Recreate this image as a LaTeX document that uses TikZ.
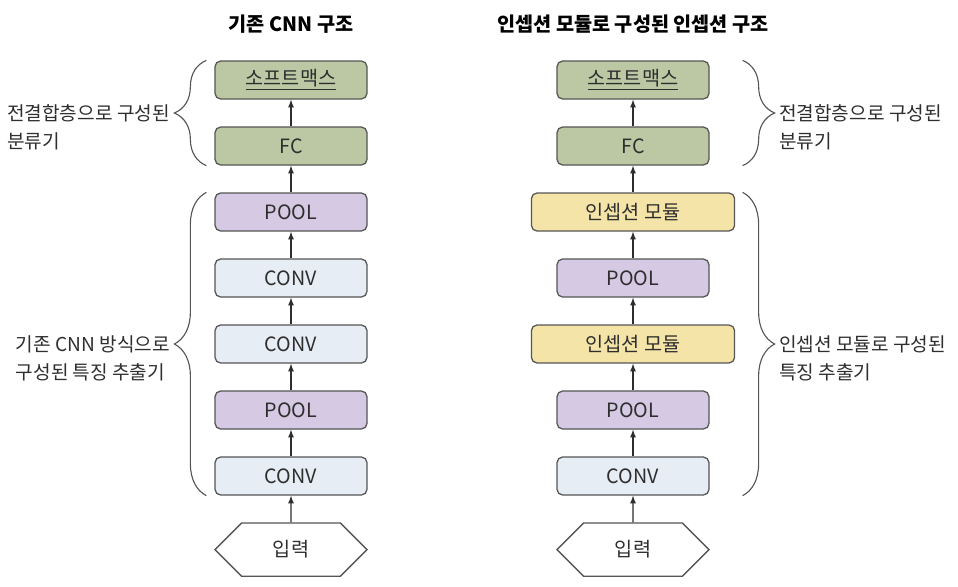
\documentclass[tikz,border=0pt]{standalone}
\usepackage{fontspec}
\setmainfont{Noto Sans CJK KR}
\usepackage{tikz}
\usetikzlibrary{shapes.symbols, arrows, decorations.pathreplacing}
\definecolor{fcgreen}{HTML}{BCC8A4}
\definecolor{poolpurple}{HTML}{D5C9E3}
\definecolor{convblue}{HTML}{E6EDF4}
\definecolor{incepyellow}{HTML}{F5E4A8}
\definecolor{boxline}{HTML}{555555}
\definecolor{textgray}{HTML}{2E2E2E}
\tikzstyle{layer} = [rectangle, rounded corners=4pt, minimum width=3.8cm, minimum height=0.95cm, text centered, draw=boxline, line width=0.9pt, text=textgray, font=\fontsize{14}{16}\selectfont]
\tikzstyle{fc} = [layer, fill=fcgreen]
\tikzstyle{pool} = [layer, fill=poolpurple]
\tikzstyle{conv} = [layer, fill=convblue]
\tikzstyle{incep} = [layer, minimum width=5.08cm, fill=incepyellow]
\tikzstyle{inputhex} = [signal, signal to=east and west, signal pointer angle=90, minimum width=3.8cm, minimum height=1.33cm, draw=boxline, fill=white, line width=0.9pt, text=textgray, font=\fontsize{14}{16}\selectfont]
\tikzstyle{title} = [text=black, font=\bfseries\fontsize{14}{16}\selectfont]
\tikzstyle{sidelabel} = [align=left, text=textgray, inner sep=0.1cm, font=\fontsize{13.6}{20}\selectfont]
\tikzstyle{groupbrace} = [decorate, decoration={brace, amplitude=0.8cm}, line width=0.8pt, draw=boxline]
\tikzstyle{arrow} = [->, >=latex, line width=0.9pt, draw=textgray]

\begin{document}
\begin{tikzpicture}[node distance=1.65cm, auto]
	\useasboundingbox (0,0) rectangle (23.95,-14.65);
	%----------------------------------------------------%
	\node(in1) [inputhex] at (7.275,-13.74) {입력};
	\node(conv1) [conv, above of=in1, yshift=0.19cm] {CONV};
	\node(pool1) [pool, above of=conv1] {POOL};
	\node(conv2) [conv, above of=pool1] {CONV};
	\node(conv3) [conv, above of=conv2] {CONV};
	\node(pool2) [pool, above of=conv3] {POOL};
	\node(fc1) [fc, above of=pool2] {FC};
	\node(sm1) [fc, above of=fc1] {\underline{소프트맥스}};
	\node(title1) [title, above of=sm1, yshift=-0.25cm] {기존 CNN 구조};
	
	\draw[arrow] (in1) -- (conv1);
	\draw[arrow] (conv1) -- (pool1);
	\draw[arrow] (pool1) -- (conv2);
	\draw[arrow] (conv2) -- (conv3);
	\draw[arrow] (conv3) -- (pool2);
	\draw[arrow] (pool2) -- (fc1);
	\draw[arrow] (fc1) -- (sm1);
	
	\draw[groupbrace] ([xshift=-0.2cm]fc1.south west) -- ([xshift=-0.2cm]sm1.north west) node[sidelabel, midway, left=0.8cm, yshift=-0.35cm] {전결합층으로 구성된\\분류기};
	\draw[groupbrace] ([xshift=-0.2cm]conv1.south west) -- ([xshift=-0.2cm]pool2.north west) node[sidelabel, midway, left=0.8cm, yshift=-0.35cm] {기존 CNN 방식으로\\구성된 특징 추출기};
	
	%----------------------------------------------------%
	\node(in2) [inputhex, right of=in1, xshift=6.9cm] {입력};
	\node(conv4) [conv, above of=in2, yshift=0.19cm] {CONV};
	\node(pool3) [pool, above of=conv4] {POOL};
	\node(incep1) [incep, above of=pool3] {인셉션 모듈};
	\node(pool4) [pool, above of=incep1] {POOL};
	\node(incep2) [incep, above of=pool4] {인셉션 모듈};
	\node(fc2) [fc, above of=incep2] {FC};
	\node(sm2) [fc, above of=fc2] {\underline{소프트맥스}};
	\node(title2) [title, above of=sm2, yshift=-0.25cm] {인셉션 모듈로 구성된 인셉션 구조};
	
	\draw[arrow] (in2) -- (conv4);
	\draw[arrow] (conv4) -- (pool3);
	\draw[arrow] (pool3) -- (incep1);
	\draw[arrow] (incep1) -- (pool4);
	\draw[arrow] (pool4) -- (incep2);
	\draw[arrow] (incep2) -- (fc2);
	\draw[arrow] (fc2) -- (sm2);
	
	\draw[groupbrace] ([xshift=0.825cm]sm2.north east) -- ([xshift=0.825cm]fc2.south east) node[sidelabel, midway, right=0.8cm, yshift=-0.35cm] {전결합층으로 구성된\\분류기};
	\draw[groupbrace] ([xshift=0.185cm]incep2.north east) -- ([xshift=0.825cm]conv4.south east) node[sidelabel, midway, right=0.8cm, yshift=-0.35cm] {인셉션 모듈로 구성된\\특징 추출기};
\end{tikzpicture}
\end{document}
